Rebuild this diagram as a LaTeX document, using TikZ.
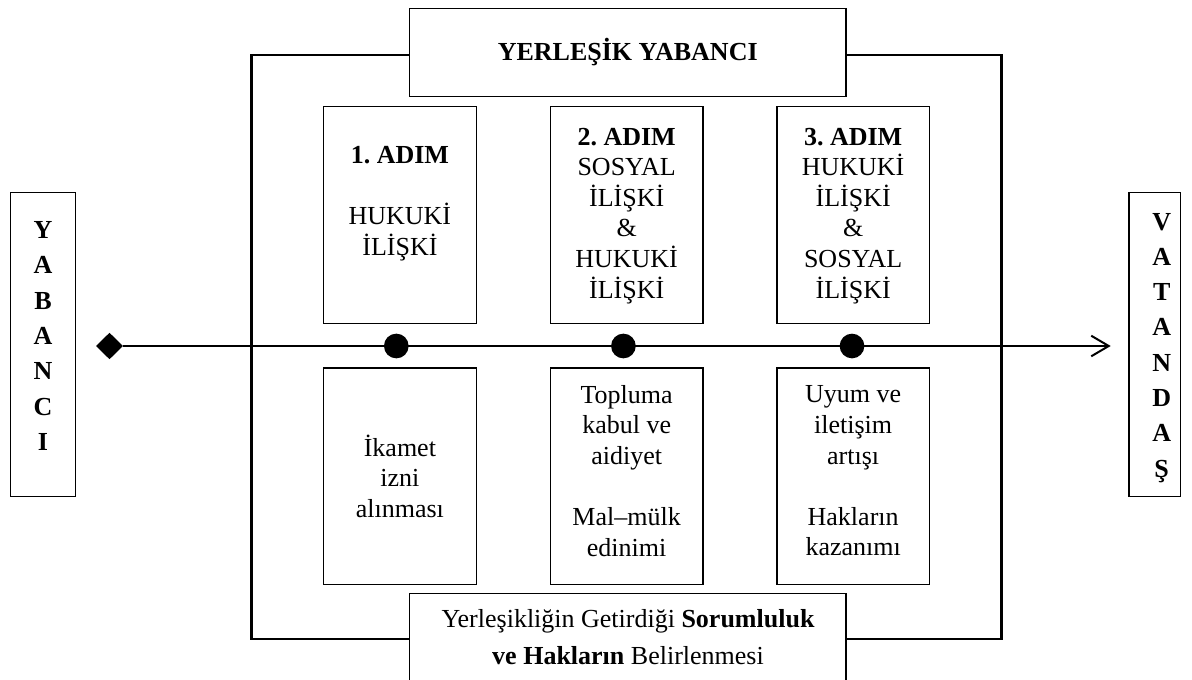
\documentclass[tikz,border=0pt]{standalone}
\usepackage{fontspec}
\setmainfont{Liberation Serif}
\usetikzlibrary{shapes.geometric,arrows.meta}
\frenchspacing
\begin{document}
\begin{tikzpicture}[x=1pt,y=-1pt,
  box/.style={draw,line width=1.3pt,fill=white,inner sep=0pt},
  stepbox/.style={box,minimum width=152.5pt,minimum height=216.5pt},
  txt/.style={align=center,inner sep=0pt,font=\fontsize{26}{30.6}\selectfont},
  letters/.style={align=center,inner sep=0pt,font=\fontsize{26}{35.3}\selectfont\bfseries},
  frameline/.style={line width=2.7pt},
  mainline/.style={line width=2pt},
  dot/.style={circle,fill=black,inner sep=0pt,minimum size=24.7pt},
  startmark/.style={diamond,fill=black,inner sep=0pt,minimum width=27pt,minimum height=26.6pt}]
\useasboundingbox (0,0) rectangle (1192,680);
\clip (0,0) rectangle (1192,680);

% frame corners
\coordinate (ftl) at (251.5,55);
\coordinate (fbr) at (1001.5,639);

% top and bottom boxes
\node[box,minimum width=436.5pt,minimum height=88.4pt,font=\fontsize{26}{30.6}\selectfont\bfseries] (top) at (627.75,52.5) {YERLE\c{S}\.{I}K YABANCI};
\node[box,minimum width=436.5pt,minimum height=106.7pt] (bot) at (627.75,646.65) {};
\node[txt,font=\fontsize{26}{37}\selectfont] (bottxt) at (628,637) {Yerle\c{s}ikli\u{g}in Getirdi\u{g}i \textbf{Sorumluluk}\\\textbf{ve Haklar\i n} Belirlenmesi};

% frame
\draw[frameline] (top.west |- ftl) -| (ftl |- fbr) -- (bot.west |- fbr);
\draw[frameline] (top.east |- ftl) -| (fbr) -- (bot.east |- fbr);

% side boxes
\node[box,minimum width=65.5pt,minimum height=304pt] (yab) at (43,344.7) {};
\node[letters] (yabtxt) at (43,336) {Y\\A\\B\\A\\N\\C\\I};
\node[box,minimum width=51.7pt,minimum height=304pt] (vat) at (1154.85,344.7) {};
\node[letters] (vattxt) at (1161.7,347.8) {V\\A\\T\\A\\N\\D\\A\\\c{S}};

% step boxes (upper)
\node[stepbox] (u1) at (399.9,215) {};
\node[stepbox] (u2) at (626.65,215) {};
\node[stepbox] (u3) at (853.15,215) {};
\node[txt] (u1t) at (399.9,203.8) {\textbf{1. ADIM}\\[30.6pt]HUKUK\.{I}\\\.{I}L\.{I}\c{S}K\.{I}};
\node[txt] (u2t) at (626.65,215.8) {\textbf{2. ADIM}\\SOSYAL\\\.{I}L\.{I}\c{S}K\.{I}\\\&\\HUKUK\.{I}\\\.{I}L\.{I}\c{S}K\.{I}};
\node[txt] (u3t) at (853.15,215.8) {\textbf{3. ADIM}\\HUKUK\.{I}\\\.{I}L\.{I}\c{S}K\.{I}\\\&\\SOSYAL\\\.{I}L\.{I}\c{S}K\.{I}};

% step boxes (lower)
\node[stepbox] (l1) at (399.9,476.3) {};
\node[stepbox] (l2) at (626.65,476.3) {};
\node[stepbox] (l3) at (853.15,476.3) {};
\node[txt] (l1t) at (399.9,476) {\.{I}kamet\\izni\\al\i nmas\i};
\node[txt] (l2t) at (626.65,471) {Topluma\\kabul ve\\aidiyet\\[30.6pt]Mal--m\"ulk\\edinimi};
\node[txt] (l3t) at (853.15,471) {Uyum ve\\ileti\c{s}im\\art\i\c{s}\i\\[30.6pt]Haklar\i n\\kazan\i m\i};

% main line
\node[startmark] (start) at (109.5,346) {};
\coordinate (tip) at (1110.7,346);
\draw[mainline,-{Straight Barb[length=17.5pt,width=20.6pt]}] (start.east) -- (tip);
\node[dot] (d1) at (396.3,346) {};
\node[dot] (d2) at (623.4,346) {};
\node[dot] (d3) at (852,346) {};
\end{tikzpicture}
\end{document}
